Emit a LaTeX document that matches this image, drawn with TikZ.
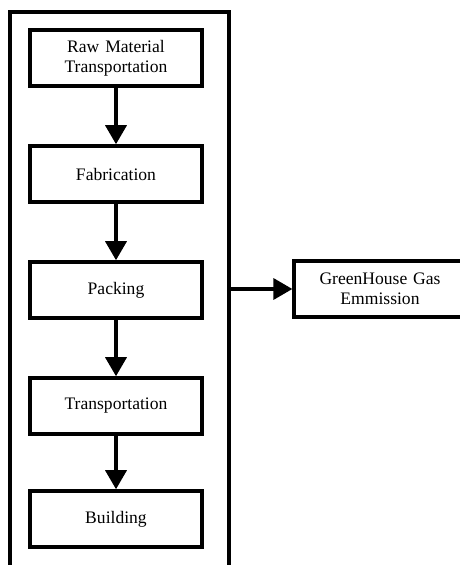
\documentclass[tikz,border=0pt]{standalone}
\usepackage{fontspec}
\setmainfont{Liberation Serif}
\usepackage{tikz}
\usetikzlibrary{shapes.geometric, arrows.meta, positioning}
\tikzstyle{stage} = [rectangle, minimum width=3.4cm, minimum height=1.12cm, text width=3.2cm, align=center, draw=black, line width=2pt, font=\fontsize{10}{11.5}\selectfont]
\tikzstyle{frame} = [rectangle, minimum width=4.38cm, minimum height=11.8cm, draw=black, line width=2pt]
\tikzstyle{arrow} = [line width=2pt, -{Triangle[length=0.38cm, width=0.42cm]}]

\begin{document}
\begin{tikzpicture}[node distance=2.32cm, auto]
        \useasboundingbox (0,0) rectangle (9.18,-11.3);
        \node [frame] (life) at (2.39,-6.14) {};

        \node [stage] (raw) at (2.32,-1.16) {Raw Material\\Transportation};
        \node [stage, below of=raw] (fab) {Fabrication};
        \node [stage, below of=fab] (pack) {Packing};
        \node [stage, below of=pack] (trans) {Transportation};
        \node [stage, below of=trans, yshift=0.06cm] (build) {Building};

        \node [stage, right of=pack, xshift=2.96cm, yshift=0.02cm] (ghg) {GreenHouse Gas\\Emmission};

        \draw [arrow] (raw) -- (fab);
        \draw [arrow] (fab) -- (pack);
        \draw [arrow] (pack) -- (trans);
        \draw [arrow] (trans) -- (build);

        \draw [arrow] (ghg -| life.east) -- (ghg);
    \end{tikzpicture}
\end{document}
